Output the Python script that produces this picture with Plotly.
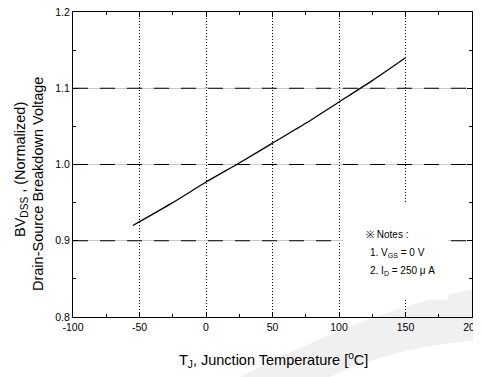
import plotly.graph_objects as go

# Data
temp_c = [-55, -25, 0, 25, 50, 75, 100, 125, 150]
bv_norm = [0.920, 0.950, 0.977, 1.002, 1.028, 1.054, 1.082, 1.110, 1.140]

x_ticks = [-100, -50, 0, 50, 100, 150, 200]
x_tick_labels = ["-100", "-50", "0", "50", "100", "150", "200"]
y_ticks = [0.8, 0.9, 1.0, 1.1, 1.2]
y_tick_labels = ["0.8", "0.9", "1.0", "1.1", "1.2"]
y_dash_grid = [0.9, 1.0, 1.1]

FONT = "Liberation Sans, Arial, sans-serif"

# page body margin offsets the figure by 8 px; compensate
OFF = 8
W, H = 481 - OFF, 377 - OFF
L, T = 73 - OFF, 12 - OFF
PW, PH = 399, 305
R, B = W - L - PW, H - T - PH


def px(x):  # screen x -> paper
    return (x - OFF - L) / PW


def py(y):  # screen y -> paper
    return (T + PH - (y - OFF)) / PH


def pt(x, y):
    return f"{px(x):.4f},{py(y):.4f}"


fig = go.Figure()
fig.add_trace(go.Scatter(x=temp_c, y=bv_norm, mode="lines",
                         line=dict(color="black", width=1.3, shape="spline", smoothing=0.6),
                         showlegend=False, hoverinfo="skip", cliponaxis=False))

shapes = []
# faint watermark band (bottom right)
band = (f"M {pt(240, 377)} Q {pt(380, 305)} {pt(481, 288)} L {pt(481, 340)} "
        f"Q {pt(400, 345)} {pt(330, 377)} Z")
shapes.append(dict(type="path", xref="paper", yref="paper", path=band,
                   fillcolor="#f0f0f0", line=dict(width=0), layer="below"))
for yv in y_dash_grid:
    shapes.append(dict(type="line", xref="x", yref="y", x0=-100, x1=200, y0=yv, y1=yv,
                       line=dict(color="black", width=1.2, dash="15px,12px"), layer="above"))
# white box behind notes
shapes.append(dict(type="rect", xref="paper", yref="paper",
                   x0=px(343), x1=px(448), y0=py(300), y1=py(202),
                   fillcolor="white", line=dict(width=0), layer="above"))

TF = dict(size=14.5, family=FONT, color="black")
NF = dict(size=10, family=FONT, color="black")
annotations = [
    dict(text="BV<sub>DSS</sub> , (Normalized)", x=px(21), y=py(170), xref="paper", yref="paper",
         textangle=-90, showarrow=False, font=TF, xanchor="center", yanchor="middle"),
    dict(text="Drain-Source Breakdown Voltage", x=px(38), y=py(184), xref="paper", yref="paper",
         textangle=-90, showarrow=False, font=TF, xanchor="center", yanchor="middle"),
    dict(text="T<sub>J</sub>, Junction Temperature [<sup>o</sup>C]", x=px(273.5), y=py(360),
         xref="paper", yref="paper", showarrow=False, font=TF, xanchor="center", yanchor="middle"),
    dict(text="※ Notes :", x=px(364), y=py(234), xref="paper", yref="paper", showarrow=False,
         font=NF, xanchor="left", yanchor="middle"),
    dict(text="1. V<sub>GS</sub> = 0 V", x=px(368), y=py(253), xref="paper", yref="paper",
         showarrow=False, font=NF, xanchor="left", yanchor="middle"),
    dict(text="2. I<sub>D</sub> = 250 μ A", x=px(368), y=py(271), xref="paper", yref="paper",
         showarrow=False, font=NF, xanchor="left", yanchor="middle"),
]

fig.update_layout(
    width=W, height=H,
    margin=dict(l=L, r=R, t=T, b=B, autoexpand=False),
    paper_bgcolor="white", plot_bgcolor="rgba(0,0,0,0)",
    font=dict(family=FONT, size=10.5, color="black"),
    shapes=shapes, annotations=annotations,
    showlegend=False,
)
fig.update_xaxes(range=[-100, 200], tickvals=x_ticks, ticktext=x_tick_labels,
                 ticks="inside", ticklen=5, tickcolor="black", ticklabeloverflow="allow",
                 showline=True, linecolor="black", linewidth=1, mirror="ticks",
                 showgrid=True, gridcolor="black", gridwidth=1, griddash="1px,2px",
                 zeroline=False, minor=dict(dtick=25, ticks="inside", ticklen=3, tickcolor="black", showgrid=False),
                 tickfont=dict(size=10.5, family=FONT))
fig.update_yaxes(range=[0.8, 1.2], tickvals=y_ticks, ticktext=y_tick_labels,
                 ticks="inside", ticklen=5, ticklabeloverflow="allow",
                 tickcolor="black", showline=True, linecolor="black", linewidth=1, mirror="ticks",
                 showgrid=True, gridcolor="#c8c8c8", gridwidth=1,
                 zeroline=False, minor=dict(dtick=0.05, ticks="inside", ticklen=3, tickcolor="black", showgrid=False),
                 tickfont=dict(size=10.5, family=FONT))

fig.write_html("out.html")
